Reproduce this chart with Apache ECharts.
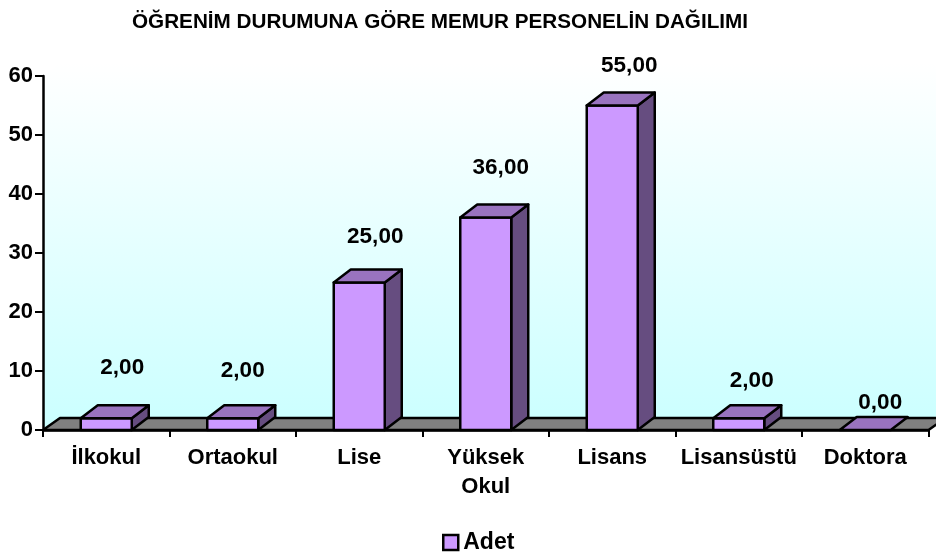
<!DOCTYPE html>
<html>
<head>
<meta charset="utf-8">
<style>html,body{margin:0;padding:0;background:#fff}#c{width:936px;height:559px}</style>
<script src="https://cdn.jsdelivr.net/npm/echarts@6/dist/echarts.min.js"></script>
</head>
<body>
<div id="c"></div>
<script>
const titleText = 'ÖĞRENİM DURUMUNA GÖRE MEMUR PERSONELİN DAĞILIMI';
const seriesName = 'Adet';
const categories = ['İlkokul', 'Ortaokul', 'Lise', 'Yüksek\nOkul', 'Lisans', 'Lisansüstü', 'Doktora'];
const values = [2, 2, 25, 36, 55, 2, 0];
const valueLabels = ['2,00', '2,00', '25,00', '36,00', '55,00', '2,00', '0,00'];
const yMin = 0, yMax = 60, yStep = 10;

// Styling and layout
const FONT = '"Liberation Sans", Arial, sans-serif';
const labelShift = [[16,-37],[10,-34],[16,-32.5],[15,-36.6],[17,-26.5],[13,-24],[15,-14]];
const barDx = 17, barDy = 13, floorDx = 17, floorDy = 12, barRatio = 51 / 126.5;
const front = '#CC99FF', topFace = '#9973BF', sideFace = '#664D80';
const stroke = { stroke: '#000', lineWidth: 2.5, lineJoin: 'round' };

function poly(points, fill, withStroke) {
  return { type: 'polygon', shape: { points }, style: Object.assign({ fill }, withStroke === false ? {} : stroke) };
}

function renderScene(params, api) {
  const r = params.coordSys;
  const b = r.y + r.height, R = r.x + r.width, L = r.x;
  const wallTop = r.y - floorDy - 1, wallBottom = b - floorDy;
  const grad = new echarts.graphic.LinearGradient(0, wallTop, 0, wallBottom, [
    { offset: 0, color: '#FFFFFF' }, { offset: 1, color: '#CCFFFF' }
  ], true);
  return { type: 'group', children: [
    poly([[L, b], [L + floorDx, wallBottom], [L + floorDx, wallTop], [L, r.y]], grad, false),
    poly([[L + floorDx, wallBottom], [R + floorDx, wallBottom], [R + floorDx, wallTop], [L + floorDx, wallTop]], grad, false),
    poly([[L, b], [L + floorDx, wallBottom], [R + floorDx, wallBottom], [R, b]], '#808080')
  ]};
}

function renderBar(params, api) {
  const i = api.value(0), v = api.value(1);
  const base = api.coord([i, 0]), top = api.coord([i, v]);
  const w = api.size([1, 0])[0] * barRatio;
  const x0 = base[0] - w / 2, x1 = base[0] + w / 2, y0 = base[1], y1 = top[1];
  const children = [];
  if (v > 0) {
    children.push(poly([[x1, y0], [x1 + barDx, y0 - barDy], [x1 + barDx, y1 - barDy], [x1, y1]], sideFace));
    children.push(poly([[x0, y0], [x1, y0], [x1, y1], [x0, y1]], front));
  }
  children.push(poly([[x0, y1], [x1, y1], [x1 + barDx, y1 - barDy], [x0 + barDx, y1 - barDy]], topFace));
  const s = labelShift[i];
  children.push({ type: 'text', style: {
    text: valueLabels[i], x: base[0] + s[0], y: y1 - barDy + s[1],
    align: 'center', verticalAlign: 'middle', fill: '#000', font: 'bold 22.5px ' + FONT
  }});
  return { type: 'group', children };
}

const chart = echarts.init(document.getElementById('c'), null, { renderer: 'canvas' });
chart.setOption({
  animation: false,
  backgroundColor: '#fff',
  title: { text: titleText, left: 127, top: 7, textStyle: { fontFamily: FONT, fontWeight: 'bold', fontSize: 20.7, color: '#000' } },
  legend: {
    data: [{ name: seriesName, icon: 'rect', itemStyle: { color: front, borderColor: '#000', borderWidth: 2.5 } }],
    left: 442, top: 531, itemWidth: 15, itemHeight: 15, itemGap: 7,
    textStyle: { fontFamily: FONT, fontWeight: 'bold', fontSize: 23, color: '#000' }, padding: 0
  },
  grid: { left: 43, right: 7.5, top: 76, bottom: 129, containLabel: false },
  xAxis: {
    type: 'category', data: categories, boundaryGap: true, z: 5,
    axisLine: { show: true, lineStyle: { color: '#000', width: 2.5 } },
    axisTick: { show: true, alignWithLabel: false, length: 7, lineStyle: { color: '#000', width: 2 } },
    axisLabel: { interval: 0, margin: 13, lineHeight: 29, fontFamily: FONT, fontWeight: 'bold', fontSize: 22, color: '#000' }
  },
  yAxis: {
    type: 'value', min: yMin, max: yMax, interval: yStep, z: 5,
    splitLine: { show: false },
    axisLine: { show: true, lineStyle: { color: '#000', width: 2.5 } },
    axisTick: { show: true, length: 8, lineStyle: { color: '#000', width: 2 } },
    axisLabel: { margin: 10, padding: [2, 0, 0, 0], fontFamily: FONT, fontWeight: 'bold', fontSize: 22, color: '#000' }
  },
  series: [
    { type: 'custom', name: 'floor', data: [[0, 0]], renderItem: renderScene, silent: true, z: 1, clip: false },
    { type: 'custom', name: seriesName, data: values.map((v, i) => [i, v]), encode: { x: 0, y: 1 },
      renderItem: renderBar, z: 6, clip: false, itemStyle: { color: front, borderColor: '#000', borderWidth: 2.5 } }
  ]
});
</script>
</body>
</html>
